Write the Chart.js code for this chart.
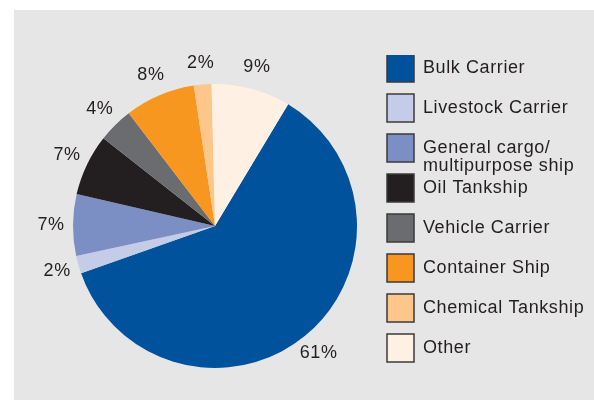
<!DOCTYPE html>
<html>
<head>
<meta charset="utf-8">
<script src="https://cdn.jsdelivr.net/npm/chart.js@4"></script>
<style>
    html, body { margin: 0; padding: 0; background: #fff; }
    #wrap { position: relative; width: 594px; height: 400px; }
    #panel { position: absolute; left: 14px; top: 10px; right: 0; bottom: 0; background: #e6e6e6; }
    #myChart { position: absolute; left: 0; top: 0; }
</style>
</head>
<body>
<div id="wrap">
    <div id="panel"></div>
    <canvas id="myChart" width="594" height="400"></canvas>
</div>
<script>
var shipTypes = ['Bulk Carrier', 'Livestock Carrier', ['General cargo/', 'multipurpose ship'], 'Oil Tankship',
    'Vehicle Carrier', 'Container Ship', 'Chemical Tankship', 'Other'];
var shares = [61, 2, 7, 7, 4, 8, 2, 9];
var sliceColors = ['#00529c', '#c4cce8', '#7c8fc5', '#231f20', '#6b6c6f', '#f7971f', '#fdc68b', '#fef0e2'];

var textColor = '#231f20';
var fontFamily = '"Liberation Sans", Arial, Helvetica, sans-serif';
var tracking = '0.6px';

// little square swatches for the legend (drawn as point style images)
function makeSwatch(color) {
    var c = document.createElement('canvas');
    c.width = 29;
    c.height = 30;
    var g = c.getContext('2d');
    g.fillStyle = color;
    g.fillRect(1, 1, 27, 28);
    g.lineWidth = 1.5;
    g.strokeStyle = '#3c3a3a';
    g.strokeRect(1, 1, 27, 28);
    return c;
}
var swatches = sliceColors.map(makeSwatch);

// the original type is slightly tracked out
var trackingPlugin = {
    id: 'tracking',
    beforeUpdate: function (chart) { chart.ctx.letterSpacing = tracking; },
    beforeDraw: function (chart) { chart.ctx.letterSpacing = tracking; }
};

var pctLabelPlugin = {
    id: 'pctLabels',
    afterDatasetsDraw: function (chart) {
        var ctx = chart.ctx;
        var meta = chart.getDatasetMeta(0);
        ctx.save();
        ctx.letterSpacing = tracking;
        ctx.font = '18px ' + fontFamily;
        ctx.fillStyle = textColor;
        ctx.textAlign = 'center';
        ctx.textBaseline = 'middle';
        meta.data.forEach(function (arc, i) {
            var p = arc.getProps(['x', 'y', 'startAngle', 'endAngle', 'outerRadius'], true);
            var mid = (p.startAngle + p.endAngle) / 2;
            var r = p.outerRadius + 22;
            ctx.fillText(shares[i] + '%', p.x + Math.cos(mid) * r, p.y + Math.sin(mid) * r);
        });
        ctx.restore();
    }
};

var ctx = document.getElementById('myChart');
var myPieChart = new Chart(ctx, {
    type: 'pie',
    data: {
        labels: shipTypes,
        datasets: [
            {
                data: shares,
                backgroundColor: sliceColors,
                borderWidth: 0,
                radius: 142
            }
        ]
    },
    options: {
        responsive: false,
        animation: false,
        devicePixelRatio: 1,
        rotation: 31,
        layout: {
            padding: { left: 47, top: 55, right: 0, bottom: 3 }
        },
        plugins: {
            tooltip: { enabled: false },
            legend: {
                position: 'right',
                align: 'start',
                maxWidth: 211,
                labels: {
                    usePointStyle: true,
                    pointStyleWidth: 27,
                    padding: 4,
                    color: textColor,
                    font: { family: fontFamily, size: 18, lineHeight: '18px' },
                    generateLabels: function (chart) {
                        return chart.data.labels.map(function (label, i) {
                            var lines = Array.isArray(label) ? label : [label, ''];
                            return {
                                text: lines,
                                fillStyle: sliceColors[i],
                                strokeStyle: sliceColors[i],
                                lineWidth: 0,
                                pointStyle: swatches[i],
                                fontColor: textColor,
                                hidden: false,
                                index: i
                            };
                        });
                    }
                }
            }
        }
    },
    plugins: [trackingPlugin, pctLabelPlugin]
});
</script>
</body>
</html>
